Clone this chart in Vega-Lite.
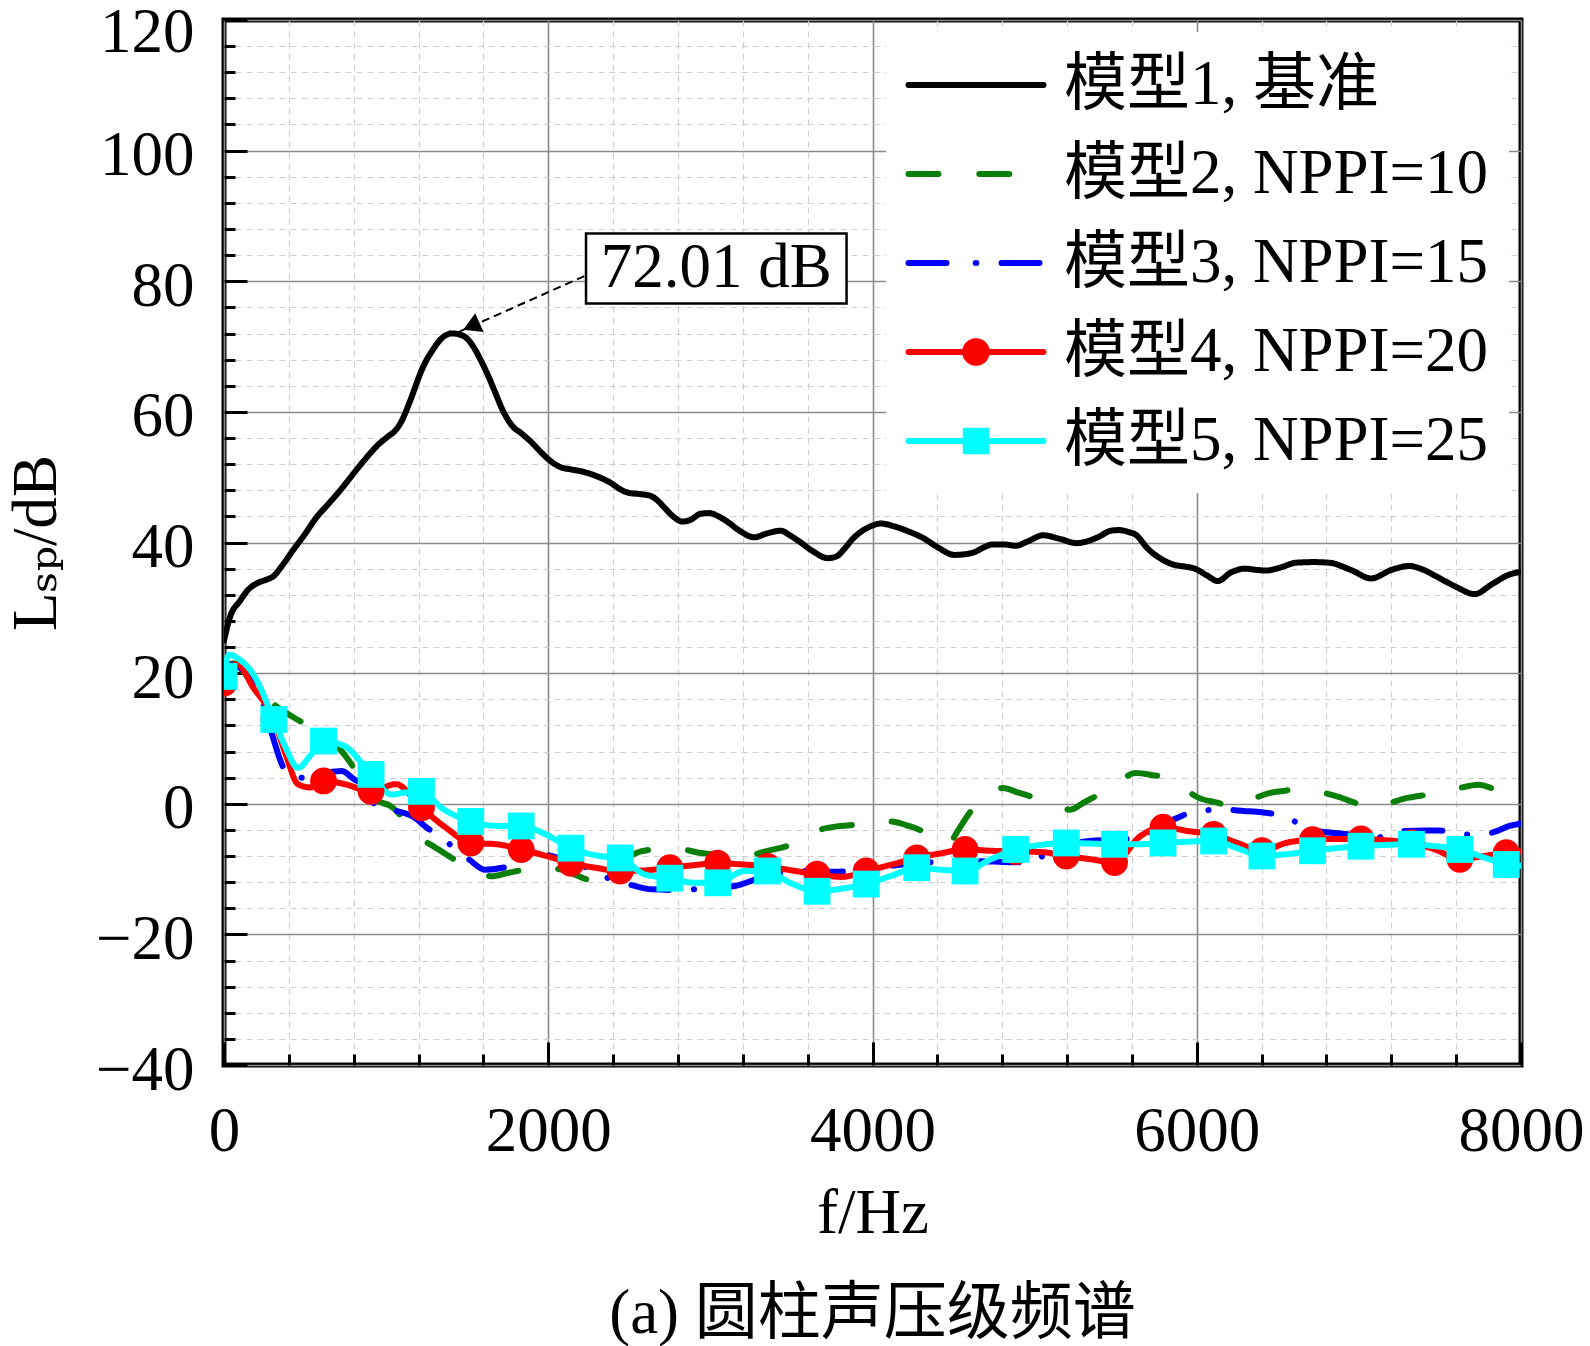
{
  "$schema": "https://vega.github.io/schema/vega-lite/v6.json",
  "description": "Cylinder sound pressure level spectrum, models 1-5",
  "width": 1297,
  "height": 1045,
  "autosize": {"type": "none"},
  "padding": {"left": 224, "top": 20, "right": 69, "bottom": 281},
  "background": "white",
  "title": {
    "text": "(a) 圆柱声压级频谱",
    "orient": "bottom",
    "font": "Liberation Serif, Noto Sans CJK SC",
    "fontSize": 63,
    "fontWeight": "normal",
    "color": "black",
    "offset": 38
  },
  "datasets": {
    "curves": [
      {"model": "M1", "f": 0, "L": 25}, {"model": "M1", "f": 40, "L": 28.8}, {"model": "M1", "f": 97, "L": 31}, {"model": "M1", "f": 150, "L": 32.8},
      {"model": "M1", "f": 207, "L": 33.8}, {"model": "M1", "f": 260, "L": 34.3}, {"model": "M1", "f": 303, "L": 34.8}, {"model": "M1", "f": 360, "L": 36.5},
      {"model": "M1", "f": 428, "L": 38.9}, {"model": "M1", "f": 500, "L": 41.3}, {"model": "M1", "f": 566, "L": 43.7}, {"model": "M1", "f": 640, "L": 45.8},
      {"model": "M1", "f": 704, "L": 47.6}, {"model": "M1", "f": 775, "L": 49.8}, {"model": "M1", "f": 842, "L": 51.9}, {"model": "M1", "f": 900, "L": 53.6},
      {"model": "M1", "f": 952, "L": 55}, {"model": "M1", "f": 1010, "L": 56.2}, {"model": "M1", "f": 1062, "L": 57.3}, {"model": "M1", "f": 1100, "L": 58.8},
      {"model": "M1", "f": 1131, "L": 60.6}, {"model": "M1", "f": 1165, "L": 62.8}, {"model": "M1", "f": 1200, "L": 65.2}, {"model": "M1", "f": 1240, "L": 67.5},
      {"model": "M1", "f": 1283, "L": 69.3}, {"model": "M1", "f": 1340, "L": 71.2}, {"model": "M1", "f": 1407, "L": 72.01}, {"model": "M1", "f": 1460, "L": 71.8},
      {"model": "M1", "f": 1504, "L": 71.1}, {"model": "M1", "f": 1545, "L": 69.7}, {"model": "M1", "f": 1586, "L": 67.8}, {"model": "M1", "f": 1630, "L": 65.5},
      {"model": "M1", "f": 1669, "L": 63.2}, {"model": "M1", "f": 1720, "L": 60.2}, {"model": "M1", "f": 1780, "L": 57.8}, {"model": "M1", "f": 1835, "L": 56.7},
      {"model": "M1", "f": 1890, "L": 55.5}, {"model": "M1", "f": 1960, "L": 53.7}, {"model": "M1", "f": 2028, "L": 52.2}, {"model": "M1", "f": 2080, "L": 51.5},
      {"model": "M1", "f": 2138, "L": 51.2}, {"model": "M1", "f": 2220, "L": 50.8}, {"model": "M1", "f": 2304, "L": 50.1}, {"model": "M1", "f": 2387, "L": 49.1},
      {"model": "M1", "f": 2440, "L": 48.2}, {"model": "M1", "f": 2497, "L": 47.6}, {"model": "M1", "f": 2570, "L": 47.4}, {"model": "M1", "f": 2635, "L": 47.1},
      {"model": "M1", "f": 2680, "L": 46.3}, {"model": "M1", "f": 2718, "L": 45.3}, {"model": "M1", "f": 2770, "L": 44}, {"model": "M1", "f": 2828, "L": 43.2},
      {"model": "M1", "f": 2880, "L": 43.5}, {"model": "M1", "f": 2940, "L": 44.4}, {"model": "M1", "f": 2994, "L": 44.5}, {"model": "M1", "f": 3050, "L": 44},
      {"model": "M1", "f": 3104, "L": 43.2}, {"model": "M1", "f": 3180, "L": 41.8}, {"model": "M1", "f": 3270, "L": 40.8}, {"model": "M1", "f": 3350, "L": 41.4},
      {"model": "M1", "f": 3435, "L": 41.8}, {"model": "M1", "f": 3490, "L": 41.1}, {"model": "M1", "f": 3546, "L": 40.2}, {"model": "M1", "f": 3630, "L": 38.7},
      {"model": "M1", "f": 3725, "L": 37.6}, {"model": "M1", "f": 3780, "L": 37.9}, {"model": "M1", "f": 3822, "L": 38.9}, {"model": "M1", "f": 3880, "L": 40.6},
      {"model": "M1", "f": 3932, "L": 41.7}, {"model": "M1", "f": 3990, "L": 42.5}, {"model": "M1", "f": 4052, "L": 42.9}, {"model": "M1", "f": 4130, "L": 42.5},
      {"model": "M1", "f": 4221, "L": 41.7}, {"model": "M1", "f": 4312, "L": 40.7}, {"model": "M1", "f": 4400, "L": 39.3}, {"model": "M1", "f": 4506, "L": 38.1},
      {"model": "M1", "f": 4570, "L": 38.2}, {"model": "M1", "f": 4636, "L": 38.6}, {"model": "M1", "f": 4690, "L": 39.3}, {"model": "M1", "f": 4740, "L": 39.7},
      {"model": "M1", "f": 4810, "L": 39.7}, {"model": "M1", "f": 4883, "L": 39.5}, {"model": "M1", "f": 4960, "L": 40.2}, {"model": "M1", "f": 5052, "L": 41.1},
      {"model": "M1", "f": 5150, "L": 40.6}, {"model": "M1", "f": 5260, "L": 39.9}, {"model": "M1", "f": 5390, "L": 40.8}, {"model": "M1", "f": 5470, "L": 41.8},
      {"model": "M1", "f": 5519, "L": 41.9}, {"model": "M1", "f": 5580, "L": 41.6}, {"model": "M1", "f": 5623, "L": 41.2}, {"model": "M1", "f": 5700, "L": 39},
      {"model": "M1", "f": 5780, "L": 37.5}, {"model": "M1", "f": 5857, "L": 36.6}, {"model": "M1", "f": 5930, "L": 36.3}, {"model": "M1", "f": 5987, "L": 36},
      {"model": "M1", "f": 6060, "L": 35}, {"model": "M1", "f": 6130, "L": 34.1}, {"model": "M1", "f": 6210, "L": 35.4}, {"model": "M1", "f": 6298, "L": 36},
      {"model": "M1", "f": 6370, "L": 35.8}, {"model": "M1", "f": 6428, "L": 35.7}, {"model": "M1", "f": 6520, "L": 36.2}, {"model": "M1", "f": 6610, "L": 36.9},
      {"model": "M1", "f": 6720, "L": 37}, {"model": "M1", "f": 6818, "L": 36.9}, {"model": "M1", "f": 6950, "L": 35.8}, {"model": "M1", "f": 7077, "L": 34.5},
      {"model": "M1", "f": 7200, "L": 35.8}, {"model": "M1", "f": 7311, "L": 36.4}, {"model": "M1", "f": 7400, "L": 35.8}, {"model": "M1", "f": 7493, "L": 34.6},
      {"model": "M1", "f": 7600, "L": 33.2}, {"model": "M1", "f": 7714, "L": 32.1}, {"model": "M1", "f": 7820, "L": 33.6}, {"model": "M1", "f": 7929, "L": 35.1},
      {"model": "M1", "f": 8000, "L": 35.5},

      {"model": "M2", "f": 0, "L": 21}, {"model": "M2", "f": 60, "L": 21.5}, {"model": "M2", "f": 120, "L": 20.2}, {"model": "M2", "f": 200, "L": 17.5},
      {"model": "M2", "f": 290, "L": 15.5}, {"model": "M2", "f": 360, "L": 14.3}, {"model": "M2", "f": 430, "L": 13.2}, {"model": "M2", "f": 520, "L": 12},
      {"model": "M2", "f": 610, "L": 11.1}, {"model": "M2", "f": 680, "L": 9.3}, {"model": "M2", "f": 750, "L": 7.3}, {"model": "M2", "f": 840, "L": 4},
      {"model": "M2", "f": 930, "L": 0.7}, {"model": "M2", "f": 1030, "L": -0.4}, {"model": "M2", "f": 1120, "L": -2.6}, {"model": "M2", "f": 1213, "L": -5.2},
      {"model": "M2", "f": 1310, "L": -6.8}, {"model": "M2", "f": 1405, "L": -8.3}, {"model": "M2", "f": 1530, "L": -10}, {"model": "M2", "f": 1650, "L": -11.1},
      {"model": "M2", "f": 1750, "L": -10.6}, {"model": "M2", "f": 1853, "L": -10.1}, {"model": "M2", "f": 1970, "L": -9.8}, {"model": "M2", "f": 2085, "L": -10.1},
      {"model": "M2", "f": 2170, "L": -10.9}, {"model": "M2", "f": 2250, "L": -11.6}, {"model": "M2", "f": 2320, "L": -11.2}, {"model": "M2", "f": 2440, "L": -9},
      {"model": "M2", "f": 2571, "L": -7.3}, {"model": "M2", "f": 2700, "L": -6.9}, {"model": "M2", "f": 2828, "L": -7}, {"model": "M2", "f": 2930, "L": -7.5},
      {"model": "M2", "f": 3033, "L": -7.8}, {"model": "M2", "f": 3150, "L": -8.2}, {"model": "M2", "f": 3264, "L": -7.8}, {"model": "M2", "f": 3369, "L": -7.1},
      {"model": "M2", "f": 3469, "L": -6.5}, {"model": "M2", "f": 3580, "L": -5}, {"model": "M2", "f": 3687, "L": -3.9}, {"model": "M2", "f": 3800, "L": -3.4},
      {"model": "M2", "f": 3905, "L": -3.2}, {"model": "M2", "f": 4010, "L": -2.9}, {"model": "M2", "f": 4117, "L": -2.7}, {"model": "M2", "f": 4210, "L": -3.3},
      {"model": "M2", "f": 4299, "L": -4.1}, {"model": "M2", "f": 4380, "L": -5.5}, {"model": "M2", "f": 4467, "L": -6.1}, {"model": "M2", "f": 4530, "L": -4},
      {"model": "M2", "f": 4584, "L": -1.9}, {"model": "M2", "f": 4690, "L": 1}, {"model": "M2", "f": 4805, "L": 2.4}, {"model": "M2", "f": 4900, "L": 1.7},
      {"model": "M2", "f": 5000, "L": 0.9}, {"model": "M2", "f": 5110, "L": -0.2}, {"model": "M2", "f": 5220, "L": -0.9}, {"model": "M2", "f": 5310, "L": 0.3},
      {"model": "M2", "f": 5402, "L": 1.5}, {"model": "M2", "f": 5510, "L": 3.2}, {"model": "M2", "f": 5623, "L": 4.7}, {"model": "M2", "f": 5720, "L": 4.4},
      {"model": "M2", "f": 5818, "L": 3.9}, {"model": "M2", "f": 5915, "L": 2.4}, {"model": "M2", "f": 6013, "L": 0.9}, {"model": "M2", "f": 6120, "L": 0.2},
      {"model": "M2", "f": 6221, "L": -0.4}, {"model": "M2", "f": 6330, "L": 0.6}, {"model": "M2", "f": 6441, "L": 1.6}, {"model": "M2", "f": 6545, "L": 2},
      {"model": "M2", "f": 6649, "L": 2.3}, {"model": "M2", "f": 6760, "L": 1.8}, {"model": "M2", "f": 6870, "L": 1.1}, {"model": "M2", "f": 6970, "L": 0.2},
      {"model": "M2", "f": 7077, "L": -0.7}, {"model": "M2", "f": 7190, "L": 0.1}, {"model": "M2", "f": 7298, "L": 0.9}, {"model": "M2", "f": 7400, "L": 1.3},
      {"model": "M2", "f": 7506, "L": 1.6}, {"model": "M2", "f": 7620, "L": 2.4}, {"model": "M2", "f": 7740, "L": 2.9}, {"model": "M2", "f": 7830, "L": 2.3},
      {"model": "M2", "f": 7929, "L": 1.6}, {"model": "M2", "f": 8000, "L": 1.3},

      {"model": "M3", "f": 0, "L": 21}, {"model": "M3", "f": 60, "L": 21.3}, {"model": "M3", "f": 120, "L": 20.4}, {"model": "M3", "f": 174, "L": 18.8},
      {"model": "M3", "f": 213, "L": 17.5}, {"model": "M3", "f": 280, "L": 12}, {"model": "M3", "f": 367, "L": 5.5}, {"model": "M3", "f": 418, "L": 4},
      {"model": "M3", "f": 495, "L": 4}, {"model": "M3", "f": 600, "L": 4.6}, {"model": "M3", "f": 726, "L": 5}, {"model": "M3", "f": 800, "L": 3.8},
      {"model": "M3", "f": 880, "L": 2.5}, {"model": "M3", "f": 930, "L": -0.1}, {"model": "M3", "f": 1050, "L": -1}, {"model": "M3", "f": 1161, "L": -1.9},
      {"model": "M3", "f": 1264, "L": -3.9}, {"model": "M3", "f": 1340, "L": -5}, {"model": "M3", "f": 1418, "L": -6.8}, {"model": "M3", "f": 1510, "L": -8.5},
      {"model": "M3", "f": 1610, "L": -10.1}, {"model": "M3", "f": 1751, "L": -9.6}, {"model": "M3", "f": 1905, "L": -7.3}, {"model": "M3", "f": 2020, "L": -8},
      {"model": "M3", "f": 2136, "L": -8.8}, {"model": "M3", "f": 2264, "L": -10.1}, {"model": "M3", "f": 2418, "L": -11.9}, {"model": "M3", "f": 2520, "L": -12.5},
      {"model": "M3", "f": 2636, "L": -13.1}, {"model": "M3", "f": 2800, "L": -13.2}, {"model": "M3", "f": 2956, "L": -13}, {"model": "M3", "f": 3150, "L": -12.6},
      {"model": "M3", "f": 3350, "L": -11}, {"model": "M3", "f": 3571, "L": -10.3}, {"model": "M3", "f": 3750, "L": -10.4}, {"model": "M3", "f": 3854, "L": -10.3},
      {"model": "M3", "f": 3961, "L": -10}, {"model": "M3", "f": 4117, "L": -9.5}, {"model": "M3", "f": 4300, "L": -9}, {"model": "M3", "f": 4500, "L": -8.9},
      {"model": "M3", "f": 4662, "L": -8.8}, {"model": "M3", "f": 4800, "L": -8.9}, {"model": "M3", "f": 4974, "L": -9}, {"model": "M3", "f": 5104, "L": -7},
      {"model": "M3", "f": 5220, "L": -6.2}, {"model": "M3", "f": 5337, "L": -5.7}, {"model": "M3", "f": 5500, "L": -5.5}, {"model": "M3", "f": 5649, "L": -5.2},
      {"model": "M3", "f": 5750, "L": -3.8}, {"model": "M3", "f": 5857, "L": -2.4}, {"model": "M3", "f": 6013, "L": -1.1}, {"model": "M3", "f": 6168, "L": -0.9},
      {"model": "M3", "f": 6290, "L": -1.1}, {"model": "M3", "f": 6402, "L": -1.3}, {"model": "M3", "f": 6558, "L": -2.1}, {"model": "M3", "f": 6701, "L": -4},
      {"model": "M3", "f": 6900, "L": -4.6}, {"model": "M3", "f": 7103, "L": -5.2}, {"model": "M3", "f": 7259, "L": -4.2}, {"model": "M3", "f": 7400, "L": -4.1},
      {"model": "M3", "f": 7493, "L": -4.1}, {"model": "M3", "f": 7649, "L": -4.7}, {"model": "M3", "f": 7805, "L": -4.5}, {"model": "M3", "f": 7929, "L": -3.4},
      {"model": "M3", "f": 8000, "L": -3},

      {"model": "M4", "f": 0, "L": 18.5}, {"model": "M4", "f": 40, "L": 20.5}, {"model": "M4", "f": 80, "L": 21.4}, {"model": "M4", "f": 180, "L": 17.8},
      {"model": "M4", "f": 307, "L": 12.9}, {"model": "M4", "f": 380, "L": 7.6}, {"model": "M4", "f": 456, "L": 3}, {"model": "M4", "f": 530, "L": 2.5},
      {"model": "M4", "f": 614, "L": 3.5}, {"model": "M4", "f": 745, "L": 3}, {"model": "M4", "f": 907, "L": 1.9}, {"model": "M4", "f": 1060, "L": 3},
      {"model": "M4", "f": 1218, "L": -0.6}, {"model": "M4", "f": 1370, "L": -3.7}, {"model": "M4", "f": 1522, "L": -6}, {"model": "M4", "f": 1680, "L": -6.2},
      {"model": "M4", "f": 1833, "L": -7}, {"model": "M4", "f": 1990, "L": -8}, {"model": "M4", "f": 2140, "L": -9.1}, {"model": "M4", "f": 2290, "L": -9.8},
      {"model": "M4", "f": 2444, "L": -10.3}, {"model": "M4", "f": 2600, "L": -10.2}, {"model": "M4", "f": 2750, "L": -9.8}, {"model": "M4", "f": 2900, "L": -9.4},
      {"model": "M4", "f": 3045, "L": -9.1}, {"model": "M4", "f": 3200, "L": -9.3}, {"model": "M4", "f": 3352, "L": -9.6}, {"model": "M4", "f": 3500, "L": -10.2},
      {"model": "M4", "f": 3658, "L": -10.8}, {"model": "M4", "f": 3810, "L": -11.2}, {"model": "M4", "f": 3961, "L": -10.3}, {"model": "M4", "f": 4120, "L": -9.3},
      {"model": "M4", "f": 4273, "L": -8.3}, {"model": "M4", "f": 4420, "L": -7.6}, {"model": "M4", "f": 4571, "L": -7}, {"model": "M4", "f": 4730, "L": -7.2},
      {"model": "M4", "f": 4883, "L": -7.3}, {"model": "M4", "f": 5040, "L": -7.4}, {"model": "M4", "f": 5195, "L": -8}, {"model": "M4", "f": 5345, "L": -8.5},
      {"model": "M4", "f": 5493, "L": -9}, {"model": "M4", "f": 5650, "L": -5}, {"model": "M4", "f": 5792, "L": -3.6}, {"model": "M4", "f": 5950, "L": -4.2},
      {"model": "M4", "f": 6104, "L": -4.7}, {"model": "M4", "f": 6250, "L": -6}, {"model": "M4", "f": 6402, "L": -7.2}, {"model": "M4", "f": 6550, "L": -6},
      {"model": "M4", "f": 6714, "L": -5.5}, {"model": "M4", "f": 6860, "L": -5.4}, {"model": "M4", "f": 7013, "L": -5.4}, {"model": "M4", "f": 7170, "L": -5.6},
      {"model": "M4", "f": 7324, "L": -6}, {"model": "M4", "f": 7470, "L": -7}, {"model": "M4", "f": 7623, "L": -8.5}, {"model": "M4", "f": 7770, "L": -8},
      {"model": "M4", "f": 7909, "L": -7.5}, {"model": "M4", "f": 8000, "L": -7.3},

      {"model": "M5", "f": 0, "L": 19.5}, {"model": "M5", "f": 30, "L": 22.8}, {"model": "M5", "f": 100, "L": 22}, {"model": "M5", "f": 181, "L": 19.8},
      {"model": "M5", "f": 307, "L": 12.9}, {"model": "M5", "f": 380, "L": 8.6}, {"model": "M5", "f": 456, "L": 5.5}, {"model": "M5", "f": 540, "L": 7.6},
      {"model": "M5", "f": 614, "L": 9.6}, {"model": "M5", "f": 745, "L": 8.8}, {"model": "M5", "f": 907, "L": 4.5}, {"model": "M5", "f": 1035, "L": 1.4},
      {"model": "M5", "f": 1110, "L": 1.7}, {"model": "M5", "f": 1218, "L": 1.9}, {"model": "M5", "f": 1340, "L": -0.6}, {"model": "M5", "f": 1522, "L": -2.7},
      {"model": "M5", "f": 1700, "L": -3.4}, {"model": "M5", "f": 1833, "L": -3.4}, {"model": "M5", "f": 1985, "L": -4.7}, {"model": "M5", "f": 2140, "L": -6.8},
      {"model": "M5", "f": 2315, "L": -8}, {"model": "M5", "f": 2444, "L": -8.3}, {"model": "M5", "f": 2593, "L": -10.8}, {"model": "M5", "f": 2750, "L": -11.4},
      {"model": "M5", "f": 2900, "L": -12.1}, {"model": "M5", "f": 3045, "L": -12.1}, {"model": "M5", "f": 3210, "L": -10.3}, {"model": "M5", "f": 3352, "L": -10.3},
      {"model": "M5", "f": 3490, "L": -12.1}, {"model": "M5", "f": 3658, "L": -13.4}, {"model": "M5", "f": 3810, "L": -13}, {"model": "M5", "f": 3961, "L": -12.3},
      {"model": "M5", "f": 4120, "L": -11}, {"model": "M5", "f": 4273, "L": -9.8}, {"model": "M5", "f": 4420, "L": -10.1}, {"model": "M5", "f": 4571, "L": -10.3},
      {"model": "M5", "f": 4730, "L": -8.5}, {"model": "M5", "f": 4883, "L": -7}, {"model": "M5", "f": 5040, "L": -6.3}, {"model": "M5", "f": 5195, "L": -6},
      {"model": "M5", "f": 5345, "L": -6.1}, {"model": "M5", "f": 5493, "L": -6.2}, {"model": "M5", "f": 5640, "L": -6.2}, {"model": "M5", "f": 5792, "L": -6},
      {"model": "M5", "f": 5950, "L": -5.8}, {"model": "M5", "f": 6104, "L": -5.7}, {"model": "M5", "f": 6250, "L": -6.8}, {"model": "M5", "f": 6402, "L": -8},
      {"model": "M5", "f": 6560, "L": -7.7}, {"model": "M5", "f": 6714, "L": -7.2}, {"model": "M5", "f": 6860, "L": -6.8}, {"model": "M5", "f": 7013, "L": -6.5},
      {"model": "M5", "f": 7170, "L": -6.3}, {"model": "M5", "f": 7324, "L": -6.2}, {"model": "M5", "f": 7470, "L": -6.5}, {"model": "M5", "f": 7623, "L": -7},
      {"model": "M5", "f": 7770, "L": -8.2}, {"model": "M5", "f": 7909, "L": -9.3}, {"model": "M5", "f": 8000, "L": -9.5}
    ],
    "markers": [
      {"model": "M4", "f": 0, "L": 18.5}, {"model": "M4", "f": 307, "L": 12.9}, {"model": "M4", "f": 614, "L": 3.5}, {"model": "M4", "f": 907, "L": 1.9},
      {"model": "M4", "f": 1218, "L": -0.6}, {"model": "M4", "f": 1522, "L": -6}, {"model": "M4", "f": 1833, "L": -7}, {"model": "M4", "f": 2140, "L": -9.1},
      {"model": "M4", "f": 2444, "L": -10.3}, {"model": "M4", "f": 2750, "L": -9.8}, {"model": "M4", "f": 3045, "L": -9.1}, {"model": "M4", "f": 3352, "L": -9.6},
      {"model": "M4", "f": 3658, "L": -10.8}, {"model": "M4", "f": 3961, "L": -10.3}, {"model": "M4", "f": 4273, "L": -8.3}, {"model": "M4", "f": 4571, "L": -7},
      {"model": "M4", "f": 4883, "L": -7.3}, {"model": "M4", "f": 5195, "L": -8}, {"model": "M4", "f": 5493, "L": -9}, {"model": "M4", "f": 5792, "L": -3.6},
      {"model": "M4", "f": 6104, "L": -4.7}, {"model": "M4", "f": 6402, "L": -7.2}, {"model": "M4", "f": 6714, "L": -5.5}, {"model": "M4", "f": 7013, "L": -5.4},
      {"model": "M4", "f": 7324, "L": -6}, {"model": "M4", "f": 7623, "L": -8.5}, {"model": "M4", "f": 7909, "L": -7.5},
      {"model": "M5", "f": 0, "L": 19.5}, {"model": "M5", "f": 307, "L": 12.9}, {"model": "M5", "f": 614, "L": 9.6}, {"model": "M5", "f": 907, "L": 4.5},
      {"model": "M5", "f": 1218, "L": 1.9}, {"model": "M5", "f": 1522, "L": -2.7}, {"model": "M5", "f": 1833, "L": -3.4}, {"model": "M5", "f": 2140, "L": -6.8},
      {"model": "M5", "f": 2444, "L": -8.3}, {"model": "M5", "f": 2750, "L": -11.4}, {"model": "M5", "f": 3045, "L": -12.1}, {"model": "M5", "f": 3352, "L": -10.3},
      {"model": "M5", "f": 3658, "L": -13.4}, {"model": "M5", "f": 3961, "L": -12.3}, {"model": "M5", "f": 4273, "L": -9.8}, {"model": "M5", "f": 4571, "L": -10.3},
      {"model": "M5", "f": 4883, "L": -7}, {"model": "M5", "f": 5195, "L": -6}, {"model": "M5", "f": 5493, "L": -6.2}, {"model": "M5", "f": 5792, "L": -6},
      {"model": "M5", "f": 6104, "L": -5.7}, {"model": "M5", "f": 6402, "L": -8}, {"model": "M5", "f": 6714, "L": -7.2}, {"model": "M5", "f": 7013, "L": -6.5},
      {"model": "M5", "f": 7324, "L": -6.2}, {"model": "M5", "f": 7623, "L": -7}, {"model": "M5", "f": 7909, "L": -9.3}
    ],
    "peak": [
      {"f": 1445, "L": 72.2, "f_label": 2233, "L_label": 80.9, "f_box0": 2233, "f_box1": 3840, "L_box0": 76.6, "L_box1": 87.3, "f_text": 3036, "L_text": 82, "text": "72.01 dB"}
    ]
  },
  "encoding": {
    "x": {
      "field": "f", "type": "quantitative",
      "scale": {"domain": [0, 8000], "nice": false},
      "axis": {
        "values": [0, 400, 800, 1200, 1600, 2000, 2400, 2800, 3200, 3600, 4000, 4400, 4800, 5200, 5600, 6000, 6400, 6800, 7200, 7600, 8000],
        "format": "d",
        "labelExpr": "datum.value % 2000 === 0 ? datum.label : ''",
        "gridColor": {"condition": {"test": "datum.value % 2000 === 0", "value": "#8a8a8a"}, "value": "#cfcfcf"},
        "gridDash": {"condition": {"test": "datum.value % 2000 === 0", "value": []}, "value": [6, 5]},
        "gridWidth": {"condition": {"test": "datum.value % 2000 === 0", "value": 1.6}, "value": 1.2},
        "tickSize": {"condition": {"test": "datum.value % 2000 === 0", "value": -23}, "value": -11},
        "labelPadding": 58,
        "title": "f/Hz",
        "titlePadding": 7
      }
    },
    "y": {
      "field": "L", "type": "quantitative",
      "scale": {"domain": [-40, 120], "nice": false},
      "axis": {
        "values": [-40, -36, -32, -28, -24, -20, -16, -12, -8, -4, 0, 4, 8, 12, 16, 20, 24, 28, 32, 36, 40, 44, 48, 52, 56, 60, 64, 68, 72, 76, 80, 84, 88, 92, 96, 100, 104, 108, 112, 116, 120],
        "format": "d",
        "labelExpr": "datum.value % 20 === 0 ? replace(datum.label, '-', '−') : ''",
        "gridColor": {"condition": {"test": "datum.value % 20 === 0", "value": "#8a8a8a"}, "value": "#cfcfcf"},
        "gridDash": {"condition": {"test": "datum.value % 20 === 0", "value": []}, "value": [6, 5]},
        "gridWidth": {"condition": {"test": "datum.value % 20 === 0", "value": 1.6}, "value": 1.2},
        "tickSize": {"condition": {"test": "datum.value % 20 === 0", "value": -23}, "value": -11},
        "labelPadding": 53,
        "labelOffset": {"condition": {"test": "datum.value === 120", "value": 12}, "value": 5},
        "title": "Lₛₚ/dB",
        "titlePadding": 27
      }
    }
  },
  "layer": [
    {
      "data": {"name": "curves"},
      "mark": {"type": "line", "strokeWidth": 6, "strokeCap": "round", "strokeJoin": "round", "interpolate": "monotone", "clip": true},
      "encoding": {
        "color": {
          "field": "model", "type": "nominal",
          "scale": {"domain": ["M1", "M2", "M3", "M4", "M5"], "range": ["#000000", "#0a800a", "#0000ff", "#ff0000", "#00ffff"]},
          "legend": {
            "title": null,
            "orient": "top-right",
            "offset": 12,
            "padding": 20,
            "fillColor": "white",
            "labelExpr": "{'M1': '模型1, 基准', 'M2': '模型2, NPPI=10', 'M3': '模型3, NPPI=15', 'M4': '模型4, NPPI=20', 'M5': '模型5, NPPI=25'}[datum.value]",
            "labelFont": "Liberation Serif, Noto Sans CJK SC",
            "labelFontSize": 63,
            "labelColor": "black",
            "labelLimit": 0,
            "labelOffset": 55,
            "symbolOffset": 37,
            "rowPadding": 24,
            "symbolSize": 3600,
            "symbolStrokeWidth": 6,
            "encode": {
              "symbols": {
                "update": {
                  "shape": {"signal": "['M-2.25,0L2.25,0', 'M-2.25,0L-1.12,0M0.11,0L1.24,0', 'M-2.25,0L-0.9,0M-0.01,0L0.01,0M0.85,0L2.25,0', 'M-2.25,0L2.25,0M0.36,0A0.36,0.36,0,1,1,-0.36,0A0.36,0.36,0,1,1,0.36,0Z', 'M-2.25,0L2.25,0M-0.34,-0.34L0.34,-0.34L0.34,0.34L-0.34,0.34Z'][datum.index]"},
                  "fill": {"signal": "['#000000', '#0a800a', '#0000ff', '#ff0000', '#00ffff'][datum.index]"},
                  "stroke": {"signal": "['#000000', '#0a800a', '#0000ff', '#ff0000', '#00ffff'][datum.index]"},
                  "strokeCap": {"value": "round"},
                  "strokeDash": {"value": [1, 0]},
                  "opacity": {"value": 1}
                }
              }
            }
          }
        },
        "strokeDash": {
          "field": "model", "type": "nominal",
          "scale": {"domain": ["M1", "M2", "M3", "M4", "M5"], "range": [[1, 0], [30, 40], [38, 25, 0.1, 25], [1, 0], [1, 0]]},
          "legend": null
        }
      }
    },
    {
      "data": {"name": "markers"},
      "mark": {"type": "point", "filled": true, "opacity": 1, "size": 720, "clip": true},
      "encoding": {
        "color": {"field": "model", "type": "nominal"},
        "shape": {
          "field": "model", "type": "nominal",
          "scale": {"domain": ["M4", "M5"], "range": ["circle", "square"]},
          "legend": null
        }
      }
    },
    {
      "data": {"name": "peak"},
      "mark": {"type": "rule", "color": "black", "strokeWidth": 2, "strokeDash": [8, 5]},
      "encoding": {
        "x2": {"field": "f_label"},
        "y2": {"field": "L_label"}
      }
    },
    {
      "data": {"name": "peak"},
      "mark": {"type": "point", "shape": "triangle-left", "filled": true, "color": "black", "opacity": 1, "size": 420, "angle": 336, "xOffset": 13, "yOffset": -6}
    },
    {
      "data": {"name": "peak"},
      "mark": {"type": "rect", "fill": "white", "stroke": "black", "strokeWidth": 2.5},
      "encoding": {
        "x": {"field": "f_box0", "type": "quantitative"},
        "x2": {"field": "f_box1"},
        "y": {"field": "L_box0", "type": "quantitative"},
        "y2": {"field": "L_box1"}
      }
    },
    {
      "data": {"name": "peak"},
      "mark": {"type": "text", "font": "Liberation Serif", "fontSize": 63, "color": "black", "align": "center", "baseline": "middle"},
      "encoding": {
        "x": {"field": "f_text", "type": "quantitative"},
        "y": {"field": "L_text", "type": "quantitative"},
        "text": {"field": "text"}
      }
    }
  ],
  "config": {
    "view": {"stroke": "black", "strokeWidth": 5},
    "axis": {
      "domain": false,
      "grid": true,
      "ticks": true,
      "tickColor": "black",
      "tickWidth": 3,
      "labelFont": "Liberation Serif",
      "labelFontSize": 63,
      "labelColor": "black",
      "labelOverlap": false,
      "labelFlush": false,
      "titleFont": "Liberation Serif, DejaVu Serif",
      "titleFontSize": 63,
      "titleFontWeight": "normal",
      "titleColor": "black"
    }
  }
}
